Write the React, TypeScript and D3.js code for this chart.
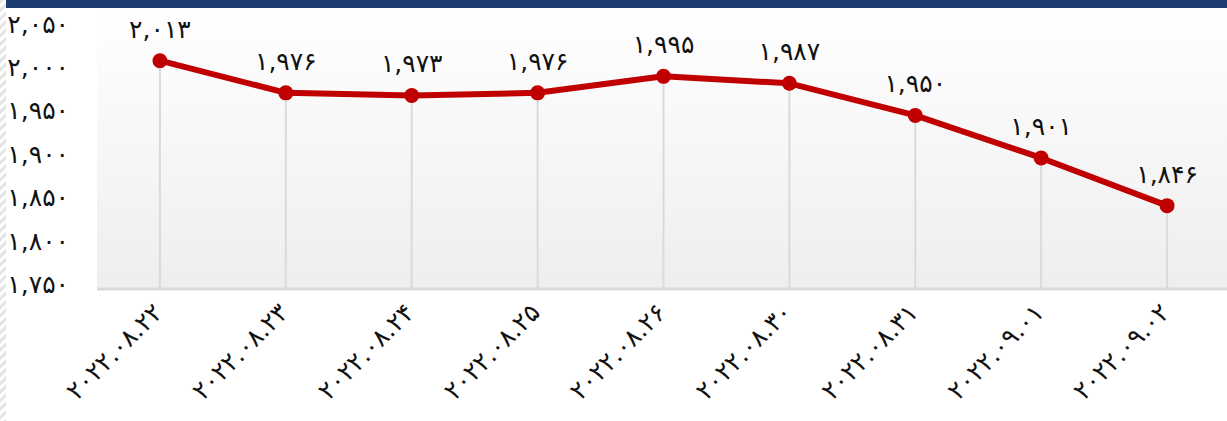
import React, { useRef, useEffect } from 'react';
import * as d3 from 'd3';

const dates = ['2022.08.22', '2022.08.23', '2022.08.24', '2022.08.25', '2022.08.26', '2022.08.30', '2022.08.31', '2022.09.01', '2022.09.02'];
const prices = [2013, 1976, 1973, 1976, 1995, 1987, 1950, 1901, 1846];
const yTicks = [1750, 1800, 1850, 1900, 1950, 2000, 2050];

const faDigits = '۰۱۲۳۴۵۶۷۸۹';
const toFa = (s: string) => s.replace(/[0-9]/g, d => faDigits[+d]);
const fmt = (v: number) => toFa(d3.format(',')(v));

const App = () => {
  const svgRef = useRef<SVGSVGElement>(null);

  useEffect(() => {
    const svg = d3.select(svgRef.current);
    svg.selectAll('*').remove();

    const width = 1227;
    const height = 421;
    const margin = { top: 8, right: -3, bottom: 132, left: 97 };
    const font = '"DejaVu Sans", sans-serif';

    svg.attr('width', width).attr('height', height);

    const defs = svg.append('defs');
    const grad = defs.append('linearGradient')
      .attr('id', 'bg').attr('x1', 0).attr('y1', 0).attr('x2', 0).attr('y2', 1);
    grad.append('stop').attr('offset', '0%').attr('stop-color', '#ffffff');
    grad.append('stop').attr('offset', '100%').attr('stop-color', '#eeeeee');

    const hatch = defs.append('pattern')
      .attr('id', 'hatch').attr('width', 6).attr('height', 6)
      .attr('patternUnits', 'userSpaceOnUse')
      .attr('patternTransform', 'rotate(45)');
    hatch.append('rect').attr('width', 6).attr('height', 6).attr('fill', '#ffffff');
    hatch.append('rect').attr('width', 3).attr('height', 6).attr('fill', '#e4e4e4');

    // left strip and top bar
    svg.append('rect').attr('x', 0).attr('y', 0).attr('width', 6).attr('height', height).attr('fill', 'url(#hatch)');
    svg.append('rect').attr('x', 6).attr('y', 0).attr('width', width - 6).attr('height', 8).attr('fill', '#1d3c6f');

    const x = d3.scalePoint<string>()
      .domain(dates)
      .range([margin.left, width - margin.right])
      .padding(0.5);

    const y = d3.scaleLinear()
      .domain([1750, 2050])
      .range([height - margin.bottom, 28.6]);

    // plot background
    svg.append('rect')
      .attr('x', margin.left).attr('y', margin.top)
      .attr('width', width - margin.left).attr('height', y(1750) - margin.top)
      .attr('fill', 'url(#bg)');

    // drop lines
    svg.append('g')
      .selectAll('line')
      .data(prices)
      .join('line')
      .attr('x1', (d, i) => x(dates[i])!)
      .attr('x2', (d, i) => x(dates[i])!)
      .attr('y1', d => y(d))
      .attr('y2', y(1750))
      .attr('stroke', '#dadada')
      .attr('stroke-width', 2);

    // bottom axis line
    svg.append('line')
      .attr('x1', margin.left).attr('x2', width)
      .attr('y1', y(1750)).attr('y2', y(1750))
      .attr('stroke', '#d9d9d9').attr('stroke-width', 3);

    // y labels
    svg.append('g')
      .selectAll('text')
      .data(yTicks)
      .join('text')
      .attr('x', 69)
      .attr('y', d => y(d) + 4)
      .attr('text-anchor', 'end')
      .attr('font-family', font)
      .attr('font-size', 25)
      .attr('fill', '#111')
      .text(d => fmt(d));

    // x labels
    svg.append('g')
      .selectAll('text')
      .data(dates)
      .join('text')
      .attr('transform', d => `translate(${x(d)! + 4},${y(1750) + 25}) rotate(-45)`)
      .attr('text-anchor', 'end')
      .attr('font-family', font)
      .attr('font-size', 25)
      .attr('fill', '#111')
      .text(d => toFa(d));

    // line
    const line = d3.line<number>()
      .x((d, i) => x(dates[i])!)
      .y(d => y(d));

    svg.append('path')
      .datum(prices)
      .attr('d', line)
      .attr('fill', 'none')
      .attr('stroke', '#c00000')
      .attr('stroke-width', 6)
      .attr('stroke-linejoin', 'round');

    svg.append('g')
      .selectAll('circle')
      .data(prices)
      .join('circle')
      .attr('cx', (d, i) => x(dates[i])!)
      .attr('cy', d => y(d))
      .attr('r', 7.5)
      .attr('fill', '#c00000');

    // value labels
    svg.append('g')
      .selectAll('text')
      .data(prices)
      .join('text')
      .attr('x', (d, i) => x(dates[i])!)
      .attr('y', d => y(d) - 23)
      .attr('text-anchor', 'middle')
      .attr('font-family', font)
      .attr('font-size', 25)
      .attr('fill', '#111')
      .text(d => fmt(d));
  }, []);

  return <svg ref={svgRef} style={{ position: 'absolute', left: 0, top: 0 }}></svg>;
};

export default App;
